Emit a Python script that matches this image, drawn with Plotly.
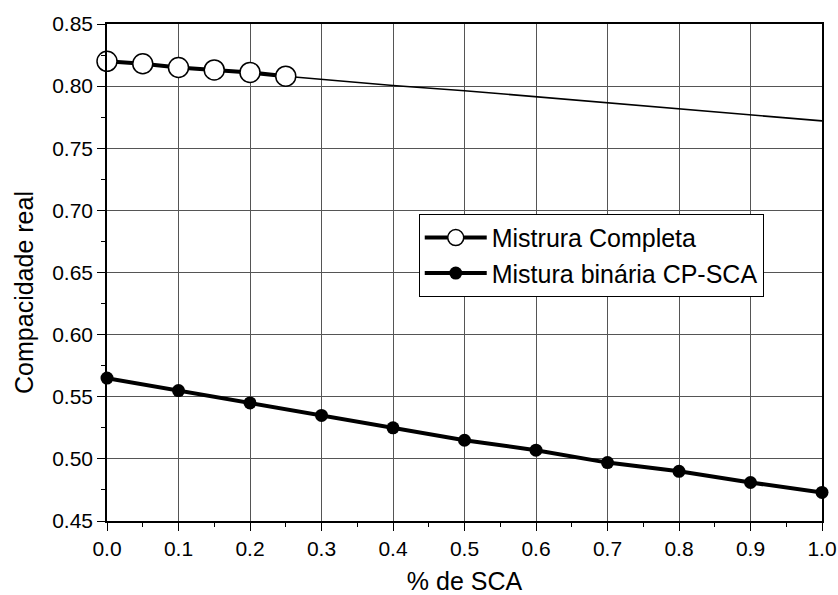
import plotly.graph_objects as go

# Data
sca_completa = [0.0, 0.05, 0.10, 0.15, 0.20, 0.25]
comp_completa = [0.820, 0.818, 0.815, 0.813, 0.811, 0.808]

sca_trend = [0.25, 0.3, 0.4, 0.5, 0.6, 0.7, 0.8, 0.9, 1.0]
comp_trend = [0.808, 0.8055, 0.8005, 0.7963, 0.7915, 0.787, 0.782, 0.7773, 0.772]

sca_binaria = [0.0, 0.1, 0.2, 0.3, 0.4, 0.5, 0.6, 0.7, 0.8, 0.9, 1.0]
comp_binaria = [0.565, 0.555, 0.545, 0.535, 0.525, 0.515, 0.507, 0.497, 0.490, 0.481, 0.473]

x_ticks = [0.0, 0.1, 0.2, 0.3, 0.4, 0.5, 0.6, 0.7, 0.8, 0.9, 1.0]
x_ticklabels = ["0.0", "0.1", "0.2", "0.3", "0.4", "0.5", "0.6", "0.7", "0.8", "0.9", "1.0"]
y_ticks = [0.45, 0.50, 0.55, 0.60, 0.65, 0.70, 0.75, 0.80, 0.85]
y_ticklabels = ["0.45", "0.50", "0.55", "0.60", "0.65", "0.70", "0.75", "0.80", "0.85"]

FONT = "Arial, Liberation Sans, sans-serif"

fig = go.Figure()

fig.add_trace(go.Scatter(
    x=sca_trend, y=comp_trend, mode="lines",
    line=dict(color="black", width=1.6), showlegend=False, hoverinfo="skip"))

fig.add_trace(go.Scatter(
    x=sca_completa, y=comp_completa, mode="lines+markers",
    name="Mistrura Completa",
    line=dict(color="black", width=4),
    marker=dict(symbol="circle", size=20, color="white",
                line=dict(color="black", width=1.5)),
    cliponaxis=False))

fig.add_trace(go.Scatter(
    x=sca_binaria, y=comp_binaria, mode="lines+markers",
    name="Mistura binária CP-SCA",
    line=dict(color="black", width=4),
    marker=dict(symbol="circle", size=13, color="black"),
    cliponaxis=False))

fig.update_layout(
    width=838, height=595,
    margin=dict(l=107, r=16, t=24, b=74, autoexpand=False),
    paper_bgcolor="white", plot_bgcolor="white",
    font=dict(family=FONT, size=20, color="black"),
    xaxis=dict(
        range=[0, 1], tickvals=x_ticks, ticktext=x_ticklabels,
        ticks="outside", ticklen=8, tickwidth=1.2, tickcolor="black",
        minor=dict(dtick=0.05, ticks="outside", ticklen=4, tickwidth=1.2,
                   tickcolor="black", showgrid=False),
        showgrid=True, gridcolor="#555555", gridwidth=1,
        showline=True, linecolor="black", linewidth=1.5, mirror=True,
        zeroline=False, automargin=False,
        title=dict(text="% de SCA", font=dict(size=25), standoff=14),
        tickfont=dict(size=21)),
    yaxis=dict(
        range=[0.45, 0.85], tickvals=y_ticks, ticktext=y_ticklabels,
        ticks="outside", ticklen=8, tickwidth=1.2, tickcolor="black",
        minor=dict(dtick=0.025, tick0=0.45, ticks="outside", ticklen=4,
                   tickwidth=1.2, tickcolor="black", showgrid=False),
        showgrid=True, gridcolor="#555555", gridwidth=1,
        showline=True, linecolor="black", linewidth=1.5, mirror=True,
        zeroline=False, automargin=False, tickfont=dict(size=21)),
    xaxis2=dict(
        overlaying="x", side="top", anchor="y", range=[0, 1],
        tickmode="linear", tick0=0, dtick=0.05, ticks="inside", ticklen=5,
        tickwidth=1.2, tickcolor="black", showticklabels=False,
        showgrid=False, zeroline=False, showline=False, automargin=False),
    yaxis2=dict(
        overlaying="y", side="right", anchor="x", range=[0.45, 0.85],
        tickmode="linear", tick0=0.45, dtick=0.025, ticks="inside", ticklen=5,
        tickwidth=1.2, tickcolor="black", showticklabels=False,
        showgrid=False, zeroline=False, showline=False, automargin=False),
    legend=dict(
        x=0.436, y=0.618, xanchor="left", yanchor="top",
        bgcolor="white", bordercolor="black", borderwidth=1,
        font=dict(size=25), itemwidth=62, tracegroupgap=0),
    annotations=[dict(
        text="Compacidade real", textangle=-90, xref="paper", yref="paper",
        x=-0.116, y=0.459, xanchor="center", yanchor="middle",
        showarrow=False, font=dict(size=25))],
)

fig.write_html("out.html", config={"displayModeBar": False},
               post_script="document.body.style.margin='0';document.body.style.padding='0';")
